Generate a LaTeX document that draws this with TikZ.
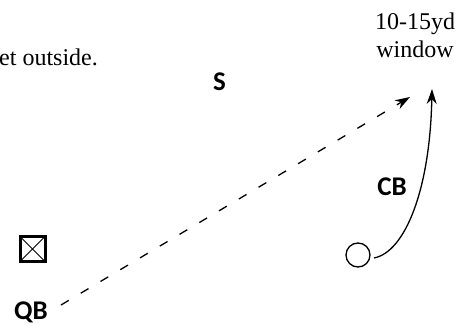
\documentclass[tikz,border=0pt]{standalone}
\usepackage{fontspec}
\setmainfont{Liberation Serif}
\newfontfamily\lblfont{Carlito}
\usetikzlibrary{arrows.meta}
\tikzset{
  serif/.style={font=\fontsize{24}{28}\selectfont, inner sep=0pt, anchor=base},
  player/.style={font=\lblfont\bfseries\fontsize{27}{30}\selectfont, inner sep=0pt, anchor=base},
  route/.style={line width=1.3pt, -{Stealth[length=15pt,width=10pt]}},
  dashroute/.style={route, dash pattern=on 9pt off 14pt},
}
\begin{document}
\begin{tikzpicture}[x=1pt,y=-1pt]
\useasboundingbox[fill=white] (0,0) rectangle (466,326);
\node[serif, anchor=base west] (note) at (-1,66) {et outside.};
\node[serif] (win1) at (415,30) {10-15yd};
\node[serif] (win2) at (415,58) {window};
\node[player] (S) at (219.5,91) {S};
\node[player] (CB) at (392,195) {CB};
\node[player] (QB) at (31,319) {QB};
\node[draw, line width=3pt, minimum size=25pt, inner sep=0pt] (box) at (32.5,249) {};
\draw[line width=0.8pt] ([shift={(1.5pt,-1.5pt)}]box.north west) -- ([shift={(-1.5pt,1.5pt)}]box.south east);
\draw[line width=0.8pt] ([shift={(-1.5pt,-1.5pt)}]box.north east) -- ([shift={(1.5pt,1.5pt)}]box.south west);
\node[draw, circle, line width=1.3pt, minimum size=24pt, inner sep=0pt] (cbpos) at (358,255) {};
\coordinate (qbstart) at (61,305);
\coordinate (dashend) at (410,97);
\coordinate (cbstart) at (374,258);
\coordinate (cbend) at (432,89);
\draw[dashroute] (qbstart) -- (dashend);
\draw[route] (cbstart) .. controls (405,252) and (430,190) .. (cbend);
\end{tikzpicture}
\end{document}
